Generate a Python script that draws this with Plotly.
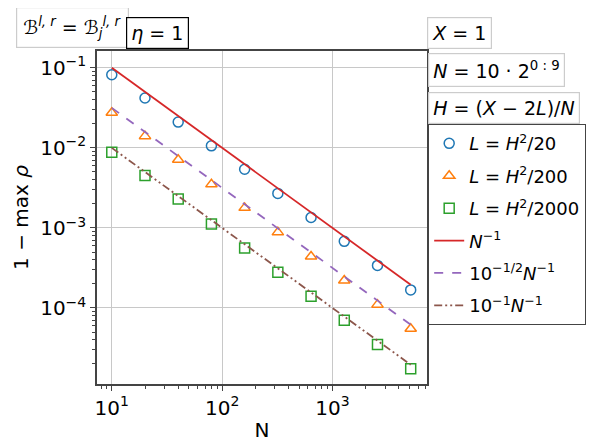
import plotly.graph_objects as go

# grid sizes N = 10 * 2^(0:9)
N = [10, 20, 40, 80, 160, 320, 640, 1280, 2560, 5120]

# 1 - max rho
rho_h20 = [0.082, 0.042, 0.021, 0.0106, 0.0054, 0.0027, 0.00135, 0.00068, 0.00034, 0.000168]
rho_h200 = [0.0275, 0.014, 0.0071, 0.0035, 0.00178, 0.00088, 0.00044, 0.00022, 0.00011, 0.000055]
rho_h2000 = [0.0088, 0.0045, 0.0023, 0.00112, 0.00056, 0.00028, 0.00014, 0.00007, 0.000035, 0.0000174]

# reference slopes
ref_1 = [0.1, 0.05, 0.025, 0.0125, 0.00625, 0.003125, 0.0015625, 0.00078125, 0.000390625, 0.0001953125]
ref_sqrt = [0.0316, 0.0158, 0.0079, 0.00395, 0.00198, 0.000988, 0.000494, 0.000247, 0.0001235, 0.0000618]
ref_01 = [0.01, 0.005, 0.0025, 0.00125, 0.000625, 0.0003125, 0.00015625, 0.000078125, 0.0000390625, 0.0000195313]

xtick_vals = [10, 100, 1000]
xtick_text = ["10<sup>1</sup>", "10<sup>2</sup>", "10<sup>3</sup>"]
ytick_vals = [1e-1, 1e-2, 1e-3, 1e-4]
ytick_text = ["10<sup>−1</sup>", "10<sup>−2</sup>", "10<sup>−3</sup>", "10<sup>−4</sup>"]

FONT = "DejaVu Sans"

fig = go.Figure()

markers = [
    (rho_h20, "circle-open", "#1f77b4", "<i>L</i> = <i>H</i><sup>2</sup>/20"),
    (rho_h200, "triangle-up-open", "#ff7f0e", "<i>L</i> = <i>H</i><sup>2</sup>/200"),
    (rho_h2000, "square-open", "#2ca02c", "<i>L</i> = <i>H</i><sup>2</sup>/2000"),
]
for i, (vals, sym, col, name) in enumerate(markers):
    fig.add_trace(go.Scatter(
        x=N, y=vals, mode="markers", name=name, legendgroup=f"g{i}",
        marker=dict(symbol=sym, size=10, color=col, line=dict(width=1.5, color=col)),
    ))

lines = [
    (ref_1, "solid", "#d62728", "<i>N</i><sup>−1</sup>"),
    (ref_sqrt, "dash", "#9467bd", "10<sup>−1/2</sup><i>N</i><sup>−1</sup>"),
    (ref_01, "8px,3px,2px,3px,2px,3px", "#8c564b", "10<sup>−1</sup><i>N</i><sup>−1</sup>"),
]
for i, (vals, dash, col, name) in enumerate(lines):
    fig.add_trace(go.Scatter(
        x=N, y=vals, mode="lines", name=name, legendgroup=f"l{i}",
        line=dict(color=col, width=1.8, dash=dash),
    ))

boxes = [
    ("ℬ<sup><i>l, r</i></sup> = ℬ<sub><i>j</i></sub><sup><i>l, r</i></sup>", -0.075, 1.072, "center", "#cccccc", 6),
    ("<i>η</i> = 1", 0.182, 1.054, "center", "#000000", 4),
    ("<i>X</i> = 1", 1.0, 1.054, "left", "#cccccc", 4),
    ("<i>N</i> = 10 · 2<sup>0 : 9</sup>", 1.003, 0.943, "left", "#cccccc", 4),
    ("<i>H</i> = (<i>X</i> − 2<i>L</i>)/<i>N</i>", 1.003, 0.829, "left", "#cccccc", 4),
]
for text, x, y, anchor, bc, pad in boxes:
    fig.add_annotation(
        text=text, x=x, y=y, xref="paper", yref="paper",
        xanchor=anchor, yanchor="middle", showarrow=False,
        font=dict(family=FONT, size=19, color="black"),
        bordercolor=bc, borderwidth=1.2, borderpad=pad, bgcolor="white",
    )

axis_common = dict(
    type="log", showline=True, linecolor="#444444", linewidth=1.5, mirror=True,
    ticks="outside", ticklen=5, tickcolor="#444444", automargin=False,
    showgrid=True, gridcolor="#c8c8c8", gridwidth=1, zeroline=False,
    tickfont=dict(family=FONT, size=20, color="black"),
    minor=dict(ticks="outside", ticklen=3, tickcolor="#444444", showgrid=False, dtick="D1"),
)

fig.update_xaxes(
    **axis_common, range=[0.866, 3.857],
    tickvals=xtick_vals, ticktext=xtick_text,
    title=dict(text="N", font=dict(family=FONT, size=20, color="black"), standoff=4),
)
fig.update_yaxes(
    **axis_common, range=[-4.95, -0.79],
    tickvals=ytick_vals, ticktext=ytick_text,
    title=dict(text="1 − max <i>ρ</i>", font=dict(family=FONT, size=20, color="black"), standoff=6),
)

# the page body adds an 8px offset, so the figure is drawn 8px smaller
fig.update_layout(
    width=590, height=438,
    margin=dict(l=89, r=158, t=43, b=62),
    plot_bgcolor="white", paper_bgcolor="white",
    font=dict(family=FONT, size=20, color="black"),
    legend=dict(
        x=1.003, y=0.781, xanchor="left", yanchor="top",
        bgcolor="white", bordercolor="#444444", borderwidth=1.2,
        font=dict(family=FONT, size=18),
        itemwidth=30, tracegroupgap=6,
    ),
    showlegend=True,
)

fig.write_html("out.html")
